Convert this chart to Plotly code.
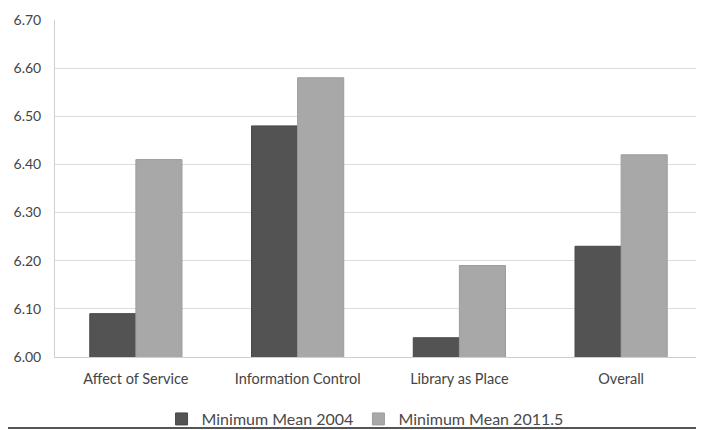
import plotly.graph_objects as go

categories = ["Affect of Service", "Information Control", "Library as Place", "Overall"]
mean_2004 = [6.09, 6.48, 6.04, 6.23]
mean_2011 = [6.41, 6.58, 6.19, 6.42]
series_names = ["Minimum Mean 2004", "Minimum Mean 2011.5"]
y_ticks = [6.00, 6.10, 6.20, 6.30, 6.40, 6.50, 6.60, 6.70]

fig = go.Figure()
fig.add_trace(go.Bar(x=categories, y=mean_2004, name=series_names[0],
                     marker=dict(color="#535353", line=dict(color="#484848", width=1))))
fig.add_trace(go.Bar(x=categories, y=mean_2011, name=series_names[1],
                     marker=dict(color="#a8a8a8", line=dict(color="#9c9c9c", width=1))))

fig.update_layout(
    width=696, height=422,
    margin=dict(l=47, r=2, t=12, b=73, autoexpand=False),
    paper_bgcolor="white", plot_bgcolor="white",
    barmode="group", bargap=0.43, bargroupgap=0,
    font=dict(family="Lato, Open Sans, sans-serif", size=13, color="#444444"),
    showlegend=True,
    legend=dict(orientation="h", x=0.513, xanchor="center", xref="container",
                y=0.026, yanchor="middle", yref="container",
                font=dict(size=16, color="#4a4a4a"), itemwidth=30,
                bgcolor="rgba(0,0,0,0)"),
    xaxis=dict(showgrid=False, showline=True, linecolor="#cfcfcf", linewidth=1,
               tickfont=dict(size=14.5, color="#444444"), ticks="",
               ticklabelstandoff=9),
    yaxis=dict(range=[6.0, 6.70], tickvals=y_ticks,
               ticktext=[f"{v:.2f}" for v in y_ticks],
               showgrid=True, gridcolor="#dcdcdc", gridwidth=1.2,
               showline=True, linecolor="#cfcfcf", linewidth=1,
               tickfont=dict(size=14, color="#444444"), ticks="", zeroline=False,
               ticklabelstandoff=10),
    shapes=[dict(type="line", xref="paper", yref="paper", x0=-0.085, x1=0.997,
                 y0=-0.2107, y1=-0.2107, line=dict(color="#555555", width=2))],
)
fig.write_html("out.html")
